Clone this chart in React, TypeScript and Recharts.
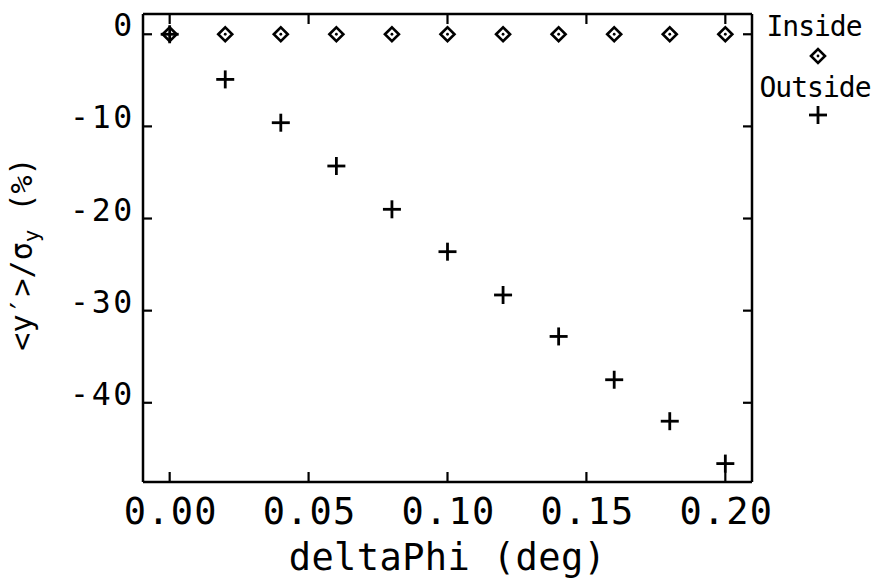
import React from "react";
import { ScatterChart, Scatter, XAxis, YAxis, Legend } from "recharts";

const deltaPhi = [0, 0.02, 0.04, 0.06, 0.08, 0.1, 0.12, 0.14, 0.16, 0.18, 0.2];
const inside = [0, 0, 0, 0, 0, 0, 0, 0, 0, 0, 0];
const outside = [0, -4.9, -9.6, -14.3, -19.0, -23.6, -28.3, -32.8, -37.5, -42.0, -46.6];
const xTicks = [0, 0.05, 0.1, 0.15, 0.2];
const yTicks = [0, -10, -20, -30, -40];

const insideData = deltaPhi.map((x, i) => ({ x, y: inside[i] }));
const outsideData = deltaPhi.map((x, i) => ({ x, y: outside[i] }));

const font = "'DejaVu Sans Mono', monospace";
const ink = "#000";
const frame = { stroke: ink, strokeWidth: 2.5 };

const Diamond = ({ cx, cy }: any) => (
  <g>
    <path d={`M${cx - 7},${cy} L${cx},${cy - 7} L${cx + 7},${cy} L${cx},${cy + 7} Z`} fill="none" stroke={ink} strokeWidth={2.6} />
    <circle cx={cx} cy={cy} r={1.4} fill={ink} />
  </g>
);

const Plus = ({ cx, cy }: any) => (
  <g stroke={ink} strokeWidth={2.8}>
    <line x1={cx - 9} x2={cx + 9} y1={cy} y2={cy} />
    <line x1={cx} x2={cx} y1={cy - 9} y2={cy + 9} />
  </g>
);

const BottomTick = ({ x, y, payload }: any) => (
  <g>
    <line x1={x} x2={x} y1={y} y2={y - 10} stroke={ink} strokeWidth={2.2} />
    <text x={x + 1} y={y + 42} textAnchor="middle" fontFamily={font} fontSize={37} letterSpacing={1.2} fill={ink}>
      {payload.value.toFixed(2)}
    </text>
  </g>
);

const TopTick = ({ x, y }: any) => (
  <line x1={x} x2={x} y1={y} y2={y + 10} stroke={ink} strokeWidth={2.2} />
);

const LeftTick = ({ x, y, payload }: any) => (
  <g>
    <line x1={x} x2={x + 9} y1={y} y2={y} stroke={ink} strokeWidth={2.2} />
    <text x={x - 8} y={y + 2} textAnchor="end" fontFamily={font} fontSize={31.5} letterSpacing={2.7} fill={ink}>
      {String(payload.value)}
    </text>
  </g>
);

const RightTick = ({ x, y }: any) => (
  <line x1={x} x2={x - 9} y1={y} y2={y} stroke={ink} strokeWidth={2.2} />
);

const XTitle = ({ viewBox }: any) => (
  <text x={viewBox.x + viewBox.width / 2} y={viewBox.y + 88} textAnchor="middle" fontFamily={font} fontSize={37} letterSpacing={0.4} fill={ink}>
    deltaPhi (deg)
  </text>
);

const YTitle = ({ viewBox }: any) => {
  const cx = 32;
  const cy = viewBox.y + viewBox.height / 2 + 6;
  return (
    <text x={cx} y={cy} transform={`rotate(-90 ${cx} ${cy})`} textAnchor="middle" fontFamily={font} fontSize={30} fill={ink}>
      {"<y′>/σ"}
      <tspan dy={7} fontSize={21}>y</tspan>
      <tspan dy={-7}>{" (%)"}</tspan>
    </text>
  );
};

const LegendBox = () => (
  <svg width={126} height={130}>
    <g fontFamily={font} fontSize={28} letterSpacing={-1} fill={ink} textAnchor="middle">
      <text x={62} y={36}>Inside</text>
      <text x={63} y={97}>Outside</text>
    </g>
    <Diamond cx={66} cy={56} />
    <Plus cx={66} cy={115} />
  </svg>
);

export default function App() {
  return (
    <div style={{ position: "absolute", left: 0, top: 0, width: 878, height: 581, background: "#fff" }}>
      <ScatterChart width={878} height={581} margin={{ top: 13, right: 125, bottom: 0, left: 0 }}>
        <XAxis
          dataKey="x"
          type="number"
          domain={[-0.0096, 0.2096]}
          allowDataOverflow
          ticks={xTicks}
          height={99}
          tickSize={0}
          tickMargin={0}
          tickLine={false}
          axisLine={frame}
          tick={<BottomTick />}
          label={<XTitle />}
        />
        <XAxis
          xAxisId="top"
          orientation="top"
          dataKey="x"
          type="number"
          domain={[-0.0096, 0.2096]}
          allowDataOverflow
          ticks={xTicks}
          height={1}
          tickSize={0}
          tickMargin={0}
          tickLine={false}
          axisLine={frame}
          tick={<TopTick />}
        />
        <YAxis
          dataKey="y"
          type="number"
          domain={[-48.6, 2.2]}
          allowDataOverflow
          ticks={yTicks}
          width={143}
          tickSize={0}
          tickMargin={0}
          tickLine={false}
          axisLine={frame}
          tick={<LeftTick />}
          label={<YTitle />}
        />
        <YAxis
          yAxisId="right"
          orientation="right"
          dataKey="y"
          type="number"
          domain={[-48.6, 2.2]}
          allowDataOverflow
          ticks={yTicks}
          width={1}
          tickSize={0}
          tickMargin={0}
          tickLine={false}
          axisLine={frame}
          tick={<RightTick />}
        />
        <Legend
          layout="vertical"
          align="center"
          verticalAlign="middle"
          content={<LegendBox />}
          wrapperStyle={{ position: "absolute", left: 752, top: 0, width: 126, height: 130 }}
        />
        <Scatter name="Inside" data={insideData} shape={<Diamond />} isAnimationActive={false} />
        <Scatter name="Outside" data={outsideData} shape={<Plus />} isAnimationActive={false} />
      </ScatterChart>
    </div>
  );
}
